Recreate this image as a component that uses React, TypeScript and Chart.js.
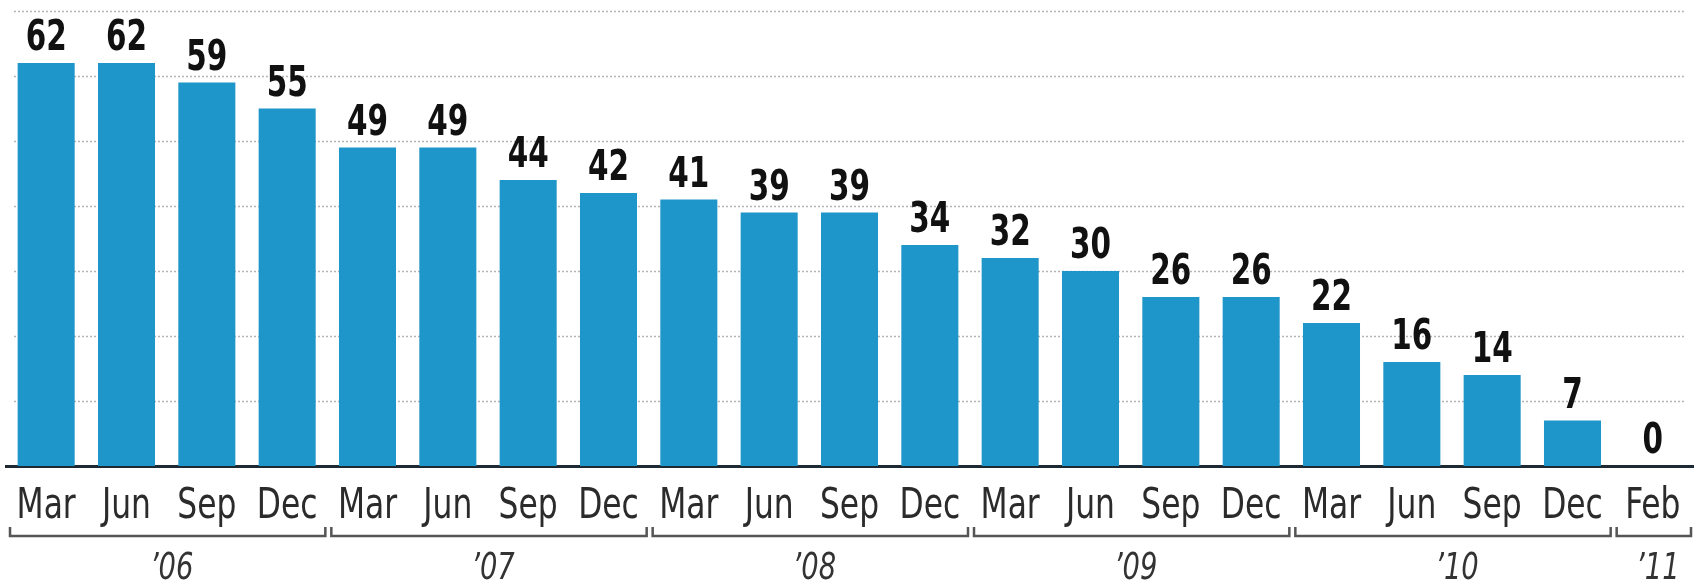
import React, { useEffect, useRef } from "react";
import { Chart, registerables } from "chart.js";

Chart.register(...registerables);

const categories = [
  "Mar", "Jun", "Sep", "Dec",
  "Mar", "Jun", "Sep", "Dec",
  "Mar", "Jun", "Sep", "Dec",
  "Mar", "Jun", "Sep", "Dec",
  "Mar", "Jun", "Sep", "Dec",
  "Feb",
];
const values = [62, 62, 59, 55, 49, 49, 44, 42, 41, 39, 39, 34, 32, 30, 26, 26, 22, 16, 14, 7, 0];
const yearLabels = ["\u201906", "\u201907", "\u201908", "\u201909", "\u201910", "\u201911"];
const groupSizes = [4, 4, 4, 4, 4, 1];

const FONT = "'DejaVu Sans Condensed', 'DejaVu Sans', sans-serif";

function drawSqueezed(ctx: any, text: string, x: number, y: number, sx: number) {
  ctx.save();
  ctx.translate(x, y);
  ctx.scale(sx, 1);
  ctx.fillText(text, 0, 0);
  ctx.restore();
}

const gridPlugin = {
  id: "extendedGrid",
  beforeDatasetsDraw(chart: any) {
    const { ctx } = chart;
    const y = chart.scales.y;
    ctx.save();
    ctx.strokeStyle = "rgba(130,130,130,0.6)";
    ctx.lineWidth = 1.5;
    ctx.setLineDash([2, 2]);
    y.ticks.forEach((t: any) => {
      if (t.value === 0) return;
      const py = Math.round(y.getPixelForValue(t.value)) + 0.5;
      ctx.beginPath();
      ctx.moveTo(14, py);
      ctx.lineTo(1686, py);
      ctx.stroke();
    });
    ctx.restore();
  },
};

const labelPlugin = {
  id: "valueLabels",
  afterDatasetsDraw(chart: any) {
    const { ctx } = chart;
    const meta = chart.getDatasetMeta(0);
    ctx.save();
    ctx.fillStyle = "#111";
    ctx.font = `bold 42px ${FONT}`;
    ctx.textAlign = "center";
    ctx.textBaseline = "alphabetic";
    meta.data.forEach((bar: any, i: number) => {
      drawSqueezed(ctx, String(values[i]), bar.x, bar.y - 13, 0.78);
    });
    ctx.restore();
  },
};

const axisTextPlugin = {
  id: "axisText",
  afterDraw(chart: any) {
    const { ctx } = chart;
    const x = chart.scales.x;
    const half = (x.getPixelForValue(1) - x.getPixelForValue(0)) / 2;
    ctx.save();
    // month tick labels
    ctx.fillStyle = "#2b2b2b";
    ctx.font = `42px ${FONT}`;
    ctx.textAlign = "center";
    ctx.textBaseline = "alphabetic";
    categories.forEach((c, i) => {
      drawSqueezed(ctx, c, x.getPixelForValue(i), 518, 0.83);
    });
    // year brackets
    const lineY = 536;
    ctx.strokeStyle = "#555";
    ctx.lineWidth = 2.5;
    ctx.fillStyle = "#333";
    ctx.font = `italic 38px ${FONT}`;
    let start = 0;
    groupSizes.forEach((n, g) => {
      const end = start + n - 1;
      const left = x.getPixelForValue(start) - half + 4;
      const right = x.getPixelForValue(end) + half - 2;
      ctx.beginPath();
      ctx.moveTo(left, lineY - 9);
      ctx.lineTo(left, lineY);
      ctx.lineTo(right, lineY);
      ctx.lineTo(right, lineY - 9);
      ctx.stroke();
      drawSqueezed(ctx, yearLabels[g], (left + right) / 2 + 4, 579, 0.8);
      start += n;
    });
    ctx.restore();
  },
};

export default function App() {
  const ref = useRef<HTMLCanvasElement>(null);
  useEffect(() => {
    if (!ref.current) return;
    const chart = new Chart(ref.current, {
      type: "bar",
      data: {
        labels: categories,
        datasets: [
          {
            data: values,
            backgroundColor: "#1f96c9",
            borderWidth: 0,
            barPercentage: 0.71,
            categoryPercentage: 1,
          },
        ],
      },
      options: {
        animation: false,
        responsive: true,
        maintainAspectRatio: false,
        layout: { padding: { top: 11, left: 6, right: 7, bottom: 0 } },
        plugins: { legend: { display: false }, tooltip: { enabled: false }, title: { display: false } },
        scales: {
          x: {
            grid: { display: false, drawTicks: false },
            border: { display: true, color: "#1e2a33", width: 3 },
            ticks: { display: false },
            afterFit(scale: any) {
              scale.height = 122;
            },
          },
          y: {
            display: false,
            min: 0,
            max: 70,
            ticks: { stepSize: 10 },
            grid: { display: false },
          },
        },
      },
      plugins: [gridPlugin, labelPlugin, axisTextPlugin],
    });
    return () => chart.destroy();
  }, []);
  return (
    <div style={{ position: "absolute", left: 0, top: 0, width: 1700, height: 588, background: "#fff" }}>
      <canvas ref={ref} />
    </div>
  );
}
